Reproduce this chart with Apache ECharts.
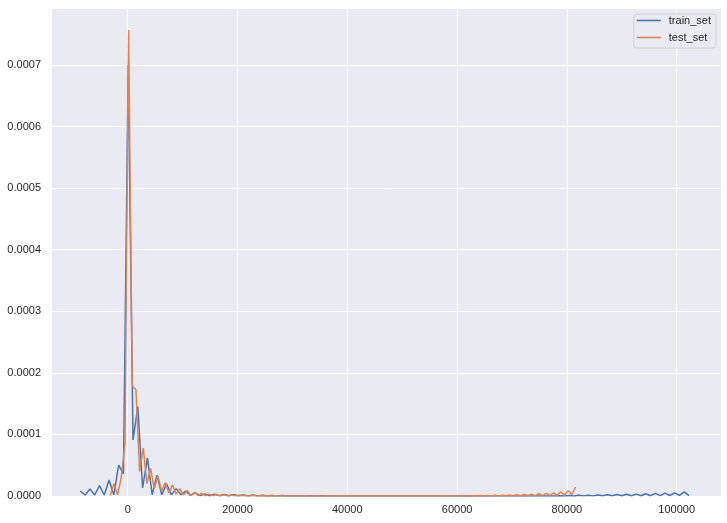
<!DOCTYPE html>
<html>
<head>
<meta charset="utf-8">
<script src="https://cdn.jsdelivr.net/npm/echarts@6/dist/echarts.min.js"></script>
<style>
html,body{margin:0;padding:0;background:#ffffff;}
#chart{width:727px;height:523px;}
</style>
</head>
<body>
<div id="chart"></div>
<script>
// KDE grid positions and densities
const seriesNames = ["train_set", "test_set"];
const xTickValues = [0, 20000, 40000, 60000, 80000, 100000];
const yTickValues = [0, 0.0001, 0.0002, 0.0003, 0.0004, 0.0005, 0.0006, 0.0007];

const trainX = [-8634,-7761,-6888,-6015,-5142,-4269,-3396,-2523,-1650,-777,96,969,1842,2715,3588,4461,5334,6207,7080,7953,8826,9699,10572,11445,12318,13191,14064,14937,15810,16683,17556,18429,19302,20175,21048,21921,22794,23667,24540,25413,26286,27159,28032,28905,29778,30651,31524,32397,33270,34143,35016,35889,36762,37635,38508,39381,40254,41127,42000,42873,43746,44619,45492,46365,47238,48111,48984,49857,50730,51603,52476,53349,54222,55095,55968,56841,57714,58587,59460,60333,61206,62079,62952,63825,64698,65571,66444,67317,68190,69063,69936,70809,71682,72555,73428,74301,75174,76047,76920,77793,78666,79539,80412,81285,82158,83031,83904,84777,85650,86523,87396,88269,89142,90015,90888,91761,92634,93507,94380,95253,96126,96999,97872,98745,99618,100491,101364,102237];
const trainY = [8.1e-6,1.6e-6,1.14e-5,1.6e-6,1.67e-5,1.6e-6,2.6e-5,2e-6,5.0e-5,3.6e-5,7.0e-4,9.1e-5,1.45e-4,1.3e-5,6.2e-5,2e-6,3.4e-5,2e-6,2.0e-5,2e-6,1.2e-5,2e-6,8e-6,1e-6,5e-6,8e-7,3.5e-6,5e-7,3e-6,4e-7,2.4e-6,3e-7,2e-6,3e-7,1.7e-6,2e-7,1.5e-6,2e-7,1.2e-6,1e-7,1e-6,1e-7,8e-7,1e-7,6e-7,0,5e-7,0,4e-7,0,3e-7,0,0,0,0,0,0,0,0,0,0,0,0,0,0,0,0,0,0,0,0,0,0,0,0,0,0,0,0,0,0,0,0,0,0,0,0,0,0,0,0,0,0,0,0,0,0,0,0,0,6e-7,1e-7,8e-7,1e-7,1.1e-6,2e-7,1.4e-6,2e-7,1.8e-6,3e-7,2.1e-6,3e-7,2.4e-6,4e-7,2.8e-6,4e-7,3.1e-6,5e-7,3.6e-6,5e-7,4.3e-6,7e-7,4.6e-6,8e-7,5.2e-6,9e-7,6.8e-6,5e-7];

const testX = [-3169,-2502,-1834,-1167,-500,167,834,1501,2169,2836,3503,4170,4837,5505,6172,6839,7506,8173,8841,9508,10175,10842,11509,12177,12844,13511,14178,14845,15513,16180,16847,17514,18181,18849,19516,20183,20850,21517,22185,22852,23519,24186,24853,25521,26188,26855,27522,28189,28857,29524,30191,30858,31525,32193,32860,33527,34194,34861,35529,36196,36863,37530,38197,38865,39532,40199,40866,41533,42201,42868,43535,44202,44869,45537,46204,46871,47538,48205,48873,49540,50207,50874,51541,52209,52876,53543,54210,54877,55545,56212,56879,57546,58213,58881,59548,60215,60882,61549,62217,62884,63551,64218,64885,65553,66220,66887,67554,68221,68889,69556,70223,70890,71557,72225,72892,73559,74226,74893,75561,76228,76895,77562,78229,78897,79564,80231,80898,81565];
const testY = [1e-6,2.0e-5,2e-6,3.0e-5,8.5e-5,7.57e-4,1.78e-4,1.73e-4,4.0e-5,7.8e-5,2.0e-5,4.5e-5,1.2e-5,3.2e-5,8e-6,2.2e-5,5e-6,1.8e-5,3e-6,1.2e-5,2e-6,9e-6,1e-6,6e-6,1e-6,4e-6,5e-7,3e-6,5e-7,2.5e-6,3e-7,2e-6,3e-7,1.5e-6,2e-7,1.2e-6,2e-7,1e-6,1e-7,8e-7,0,6e-7,0,4e-7,0,3e-7,0,0,0,0,0,0,0,0,0,0,0,0,0,0,0,0,0,0,0,0,0,0,0,0,0,0,0,0,0,0,0,0,0,0,0,0,0,0,0,0,0,0,0,0,0,0,0,0,0,0,0,0,0,3e-7,0,8e-7,1e-7,1e-6,2e-7,1.2e-6,2e-7,1.4e-6,3e-7,1.7e-6,3e-7,2e-6,4e-7,2.5e-6,5e-7,2.9e-6,6e-7,3.8e-6,7e-7,4.4e-6,8e-7,4.9e-6,1e-6,7e-6,1.5e-6,8.6e-6,2.4e-6,1.46e-5];

const pairs = (xs, ys) => xs.map((x, i) => [x, ys[i]]);
const FONT = "'Liberation Sans', Arial, sans-serif";
const TXT = '#262626';

const chart = echarts.init(document.getElementById('chart'), null, {renderer: 'canvas'});
chart.setOption({
  animation: false,
  backgroundColor: '#ffffff',
  grid: {
    left: 52, right: 6, top: 8, bottom: 27,
    show: true, backgroundColor: '#EAEAF2', borderWidth: 0
  },
  legend: {
    orient: 'vertical',
    right: 11, top: 14,
    data: seriesNames,
    icon: 'rect',
    itemWidth: 24, itemHeight: 1.6, itemGap: 4,
    padding: [0, 5, 4, 3],
    backgroundColor: 'rgba(234,234,242,0.8)',
    borderColor: '#d0d0d0', borderWidth: 1, borderRadius: 3,
    textStyle: {color: TXT, fontSize: 11, fontFamily: FONT, padding: [0, 0, 0, 3], lineHeight: 13}
  },
  xAxis: {
    type: 'value',
    min: -13789, max: 108069,
    axisLine: {show: false},
    axisTick: {show: false, customValues: xTickValues},
    axisLabel: {customValues: xTickValues, color: TXT, fontSize: 11, fontFamily: FONT, margin: 8,
      formatter: v => String(v)},
    splitLine: {show: true, lineStyle: {color: '#ffffff', width: 1}}
  },
  yAxis: {
    type: 'value',
    min: 0, max: 0.0007926, interval: 0.0001,
    axisLine: {show: false},
    axisTick: {show: false},
    axisLabel: {color: TXT, fontSize: 11, fontFamily: FONT, margin: 11, showMaxLabel: false,
      formatter: v => v.toFixed(4)},
    splitLine: {show: true, lineStyle: {color: '#ffffff', width: 1}}
  },
  series: [
    {name: seriesNames[0], type: 'line', data: pairs(trainX, trainY), symbol: 'none',
      lineStyle: {color: '#4C72B0', width: 1.5}, itemStyle: {color: '#4C72B0'}},
    {name: seriesNames[1], type: 'line', data: pairs(testX, testY), symbol: 'none',
      lineStyle: {color: '#DD8452', width: 1.5}, itemStyle: {color: '#DD8452'}}
  ]
});
</script>
</body>
</html>
